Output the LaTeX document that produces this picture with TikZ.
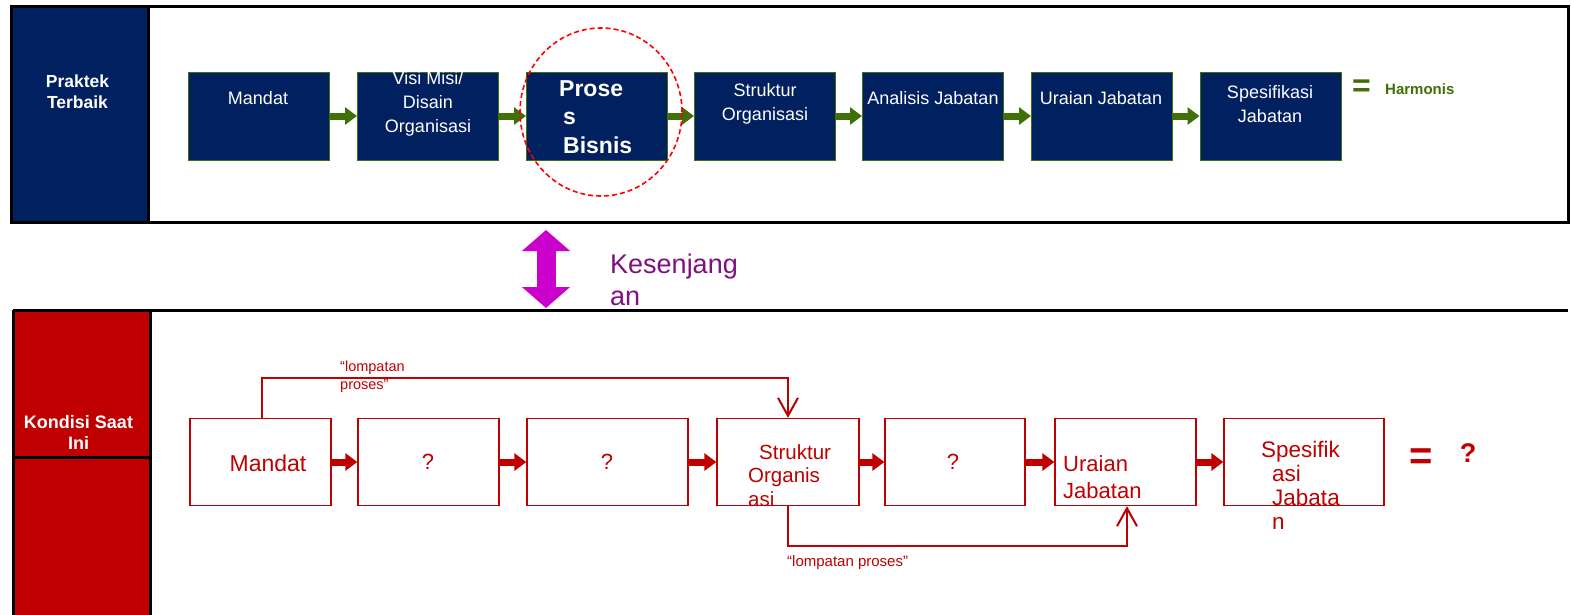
\documentclass[tikz,border=0pt]{standalone}
\usepackage{fontspec}
\setmainfont{Liberation Sans}
\usetikzlibrary{arrows.meta,calc}
\definecolor{navy}{RGB}{0,32,96}
\definecolor{leaf}{RGB}{64,112,8}
\definecolor{crimson}{RGB}{192,0,0}
\definecolor{fuchsia}{RGB}{204,0,204}
\definecolor{plum}{RGB}{128,16,128}
\definecolor{brightred}{RGB}{255,0,0}
\tikzset{
  bestbox/.style={draw=leaf, line width=1pt, fill=navy, minimum width=141pt, minimum height=88pt, inner sep=0pt},
  nowbox/.style={draw=crimson, line width=1.3pt, fill=white, minimum width=141pt, minimum height=87pt, inner sep=0pt},
  bestlbl/.style={text=white, font=\fontsize{18}{24}\selectfont, align=center, inner sep=0pt},
  nowlbl/.style={text=crimson, font=\fontsize{22}{24}\selectfont, inner sep=0pt},
  greenarrow/.style={draw=leaf, line width=7pt, -{Triangle[length=12pt,width=17pt]}},
  redarrow/.style={draw=crimson, line width=7pt, -{Triangle[length=12pt,width=17pt]}},
  jumparrow/.style={draw=crimson, line width=2.5pt, -{Straight Barb[length=18pt,width=20pt,line width=2pt]}},
  jumplbl/.style={text=crimson, font=\fontsize{14.5}{18}\selectfont, inner sep=0pt},
  bandlbl/.style={text=white, align=center, inner sep=0pt},
  frame/.style={draw=black, line width=3pt}
}
\begin{document}
\begin{tikzpicture}[x=1pt,y=-1pt]
\useasboundingbox (0,0) rectangle (1571,614);
\fill[white] (0,0) rectangle (1571,614);

% ---- upper panel: best practice ----
\fill[navy] (11,6) rectangle (148,222);
\draw[frame] (11,6) rectangle (1568,222);
\draw[frame] (148,6) -- (148,222);
\node[bandlbl, font=\bfseries\fontsize{17.5}{20.5}\selectfont, anchor=north] (bestband) at (77.5,75) {Praktek\\Terbaik};

\node[bestbox] (b1) at (259,116) {};
\node[bestbox] (b2) at (428,116) {};
\node[bestbox] (b3) at (597,116) {};
\node[bestbox] (b4) at (765,116) {};
\node[bestbox] (b5) at (933,116) {};
\node[bestbox] (b6) at (1102,116) {};
\node[bestbox] (b7) at (1270.5,116) {};

\draw[greenarrow] (b1.east) -- (b2.west);
\draw[greenarrow] (b2.east) -- (b3.west);
\draw[greenarrow] (b3.east) -- (b4.west);
\draw[greenarrow] (b4.east) -- (b5.west);
\draw[greenarrow] (b5.east) -- (b6.west);
\draw[greenarrow] (b6.east) -- (b7.west);

\node[bestlbl] (t1) at (258,97.7) {Mandat};
\node[bestlbl, anchor=north] (t2) at (428,71) {Visi Misi/\\Disain\\Organisasi};
\node[bestlbl, font=\bfseries\fontsize{23}{28.5}\selectfont, align=left, anchor=north west] (t3) at (559,80) {Prose\\\hspace{4pt}s\\\hspace{4pt}Bisnis};
\node[bestlbl] (t4) at (765,104) {Struktur\\Organisasi};
\node[bestlbl] (t5) at (933,98) {Analisis Jabatan};
\node[bestlbl] (t6) at (1101,98) {Uraian Jabatan};
\node[bestlbl] (t7) at (1270,104) {Spesifikasi\\Jabatan};

\node[text=leaf, font=\bfseries\fontsize{32}{32}\selectfont, inner sep=0pt] (eqbest) at (1361.5,88) {=};
\node[text=leaf, font=\bfseries\fontsize{15}{18}\selectfont, inner sep=0pt, anchor=base west] (harm) at (1385,94) {Harmonis};

\draw[brightred, line width=1.6pt, dash pattern=on 5pt off 3pt] (601,112) ellipse [x radius=81pt, y radius=84pt];

% ---- gap marker ----
\coordinate (gaptop) at (546,230);
\coordinate (gapbot) at (546,308);
\draw[fuchsia, line width=19pt, {Triangle[length=21pt,width=47pt]}-{Triangle[length=21pt,width=47pt]}] (gaptop) -- (gapbot);
\node[text=plum, font=\fontsize{27}{32}\selectfont, align=left, anchor=north west, inner sep=0pt] (gap) at (610,253.5) {Kesenjang\\an};

% ---- lower panel: current condition ----
\fill[crimson] (13,310) rectangle (150,616);
\draw[frame] (13,310) -- (1568,310);
\draw[frame] (13,310) -- (13,616);
\draw[frame] (150,310) -- (150,616);
\draw[frame] (13,457) -- (150,457);
\node[bandlbl, font=\bfseries\fontsize{18}{21}\selectfont, anchor=north] (nowband) at (78.5,415) {Kondisi Saat\\Ini};

\node[nowbox] (c1) at (260.5,462) {};
\node[nowbox] (c2) at (428.5,462) {};
\node[nowbox, minimum width=161pt] (c3) at (607.5,462) {};
\node[nowbox, minimum width=142pt] (c4) at (788,462) {};
\node[nowbox, minimum width=140pt] (c5) at (955,462) {};
\node[nowbox, minimum width=141pt] (c6) at (1125.5,462) {};
\node[nowbox, minimum width=160pt] (c7) at (1304,462) {};

\draw[redarrow] (c1.east) -- (c2.west);
\draw[redarrow] (c2.east) -- (c3.west);
\draw[redarrow] (c3.east) -- (c4.west);
\draw[redarrow] (c4.east) -- (c5.west);
\draw[redarrow] (c5.east) -- (c6.west);
\draw[redarrow] (c6.east) -- (c7.west);

\node[nowlbl, font=\fontsize{23}{24}\selectfont] (u1) at (268,463) {Mandat};
\node[nowlbl] (u2) at (428,462) {?};
\node[nowlbl] (u3) at (607,462) {?};
\node[nowlbl, font=\fontsize{20.5}{23.5}\selectfont, align=left, anchor=north west] (u4) at (748,444) {\hspace{11pt}Struktur\\Organis\\asi};
\node[nowlbl] (u5) at (953,462) {?};
\node[nowlbl, align=left, anchor=north west, font=\fontsize{22}{27.6}\selectfont] (u6) at (1063,455) {Uraian\\Jabatan};
\node[nowlbl, align=left, anchor=north west, font=\fontsize{22.5}{24}\selectfont] (u7) at (1261,440.5) {Spesifik\\\hspace{11pt}asi\\\hspace{11pt}Jabata\\\hspace{11pt}n};

\node[text=crimson, font=\bfseries\fontsize{40}{40}\selectfont, inner sep=0pt] (eqnow) at (1421.5,459.5) {=};
\node[text=crimson, font=\bfseries\fontsize{27}{27}\selectfont, inner sep=0pt] (qnow) at (1468,453) {?};

% process jumps
\draw[jumparrow] ([xshift=1.5pt]c1.north) |- ([yshift=40pt]c4.north) -- (c4.north);
\node[jumplbl, align=left, anchor=west] (j1) at (340,377) {``lompatan\\proses''};
\draw[jumparrow] (c4.south) |- ([xshift=1.5pt,yshift=-40pt]c6.south) -- ([xshift=1.5pt]c6.south);
\node[jumplbl, font=\fontsize{15}{18}\selectfont, anchor=west] (j2) at (787,563) {``lompatan proses''};
\end{tikzpicture}
\end{document}
